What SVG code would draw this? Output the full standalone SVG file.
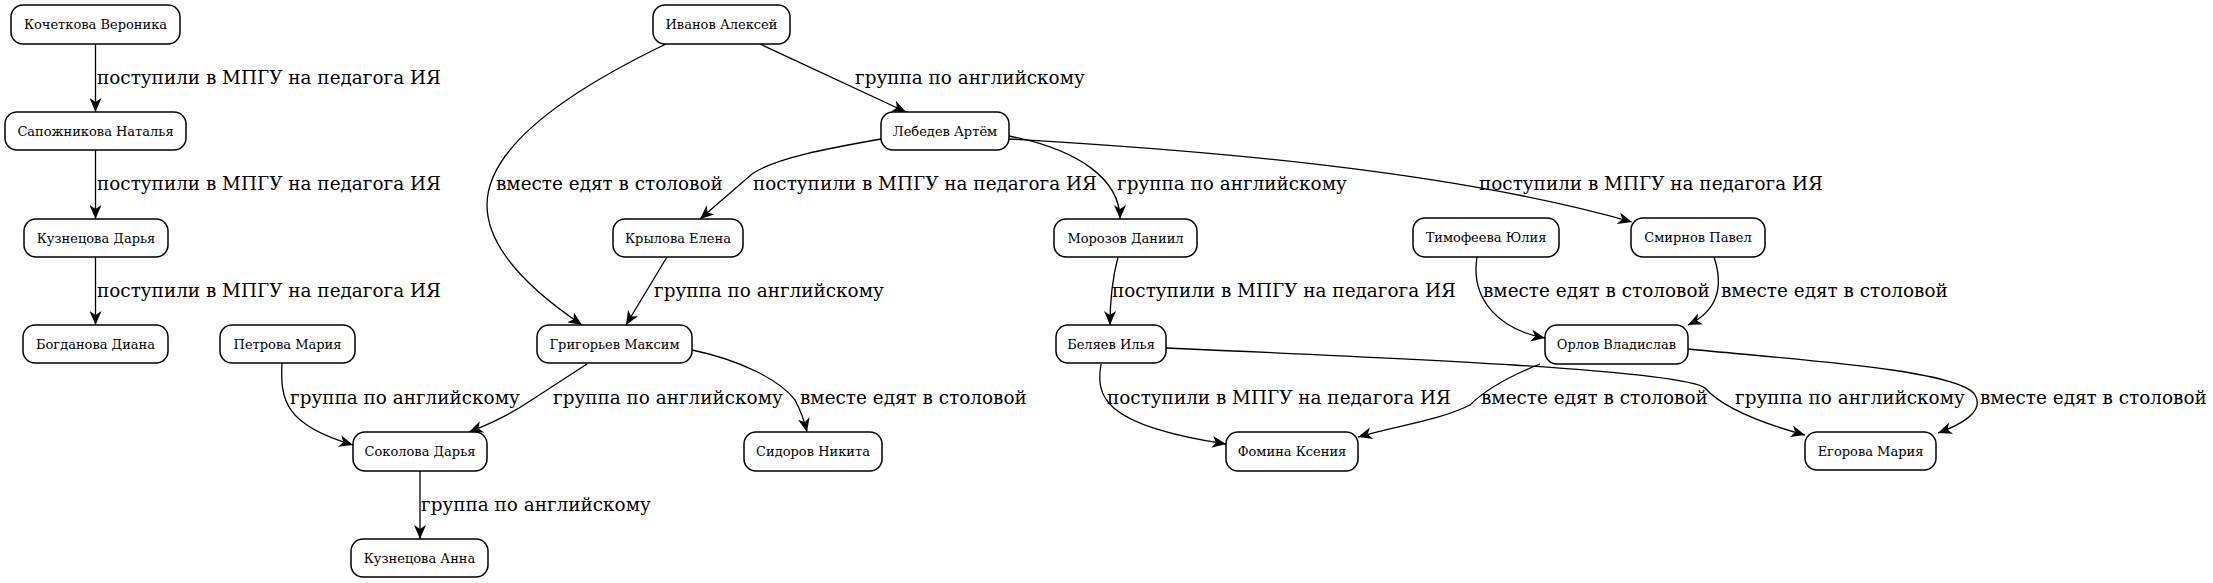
<svg xmlns="http://www.w3.org/2000/svg" width="2213" height="583" viewBox="0 0 2213 583">
<style>
.n rect{fill:#fff;stroke:#000;stroke-width:1.5}
.n text{font-family:"DejaVu Serif",serif;font-size:13px;text-anchor:middle;fill:#000}
.e path{fill:none;stroke:#000;stroke-width:1.3}
.l{font-family:"DejaVu Serif",serif;font-size:18.4px;fill:#000}
</style>
<defs>
<marker id="a" markerUnits="userSpaceOnUse" markerWidth="16" markerHeight="12" refX="14" refY="6" orient="auto">
<path d="M0,0 L14,6 L0,12 L4,6 z" fill="#000"/>
</marker>
</defs>
<rect width="2213" height="583" fill="#fff"/>
<g id="edges" class="e">
<path marker-end="url(#a)" d="M95.5,44 L95.5,112"/>
<path marker-end="url(#a)" d="M95.5,150 L95.5,219"/>
<path marker-end="url(#a)" d="M95.5,257 L95.5,325"/>
<path marker-end="url(#a)" d="M282,363 C280,400 285,425 353,445"/>
<path marker-end="url(#a)" d="M587,364 L530,401 Q505,418 469,432"/>
<path marker-end="url(#a)" d="M692,350 C740,360 780,380 795,400 Q803,415 807,432"/>
<path marker-end="url(#a)" d="M420,471 L420,539"/>
<path marker-end="url(#a)" d="M760,44 L906,112"/>
<path marker-end="url(#a)" d="M666,44 C560,95 487,150 487,205 C487,255 545,300 582,325"/>
<path marker-end="url(#a)" d="M881,139 C830,148 775,158 752,174 L700,219"/>
<path marker-end="url(#a)" d="M667,257 L626,325"/>
<path marker-end="url(#a)" d="M1009,136 C1080,150 1120,180 1120,219"/>
<path marker-end="url(#a)" d="M1009,139 C1200,150 1450,170 1632,222"/>
<path marker-end="url(#a)" d="M1118,257 C1112,280 1110,300 1110,325"/>
<path marker-end="url(#a)" d="M1477,257 C1470,300 1500,330 1545,338"/>
<path marker-end="url(#a)" d="M1714,257 C1725,290 1715,312 1688,325"/>
<path marker-end="url(#a)" d="M1101,364 C1096,395 1100,425 1226,444"/>
<path marker-end="url(#a)" d="M1540,364 C1500,380 1480,395 1470,405 C1440,420 1400,425 1358,437"/>
<path marker-end="url(#a)" d="M1166,348 C1400,358 1680,370 1705,388 C1720,405 1750,420 1805,435"/>
<path marker-end="url(#a)" d="M1688,349 C1800,360 1960,370 1975,395 C1985,412 1960,425 1938,433"/>
<text class="l" x="97" y="84">поступили в МПГУ на педагога ИЯ</text>
<text class="l" x="97" y="190">поступили в МПГУ на педагога ИЯ</text>
<text class="l" x="97" y="297">поступили в МПГУ на педагога ИЯ</text>
<text class="l" x="290" y="404">группа по английскому</text>
<text class="l" x="553" y="404">группа по английскому</text>
<text class="l" x="800" y="404">вместе едят в столовой</text>
<text class="l" x="421" y="511">группа по английскому</text>
<text class="l" x="855" y="84">группа по английскому</text>
<text class="l" x="496" y="190">вместе едят в столовой</text>
<text class="l" x="753" y="190">поступили в МПГУ на педагога ИЯ</text>
<text class="l" x="654" y="297">группа по английскому</text>
<text class="l" x="1117" y="190">группа по английскому</text>
<text class="l" x="1479" y="190">поступили в МПГУ на педагога ИЯ</text>
<text class="l" x="1112" y="297">поступили в МПГУ на педагога ИЯ</text>
<text class="l" x="1483" y="297">вместе едят в столовой</text>
<text class="l" x="1721" y="297">вместе едят в столовой</text>
<text class="l" x="1107" y="404">поступили в МПГУ на педагога ИЯ</text>
<text class="l" x="1481" y="404">вместе едят в столовой</text>
<text class="l" x="1735" y="404">группа по английскому</text>
<text class="l" x="1980" y="404">вместе едят в столовой</text>
</g>
<g id="n1" class="n"><rect x="11" y="5" width="169" height="39" rx="12"/><text x="95.5" y="29">Кочеткова Вероника</text></g>
<g id="n2" class="n"><rect x="5" y="112" width="181" height="38" rx="12"/><text x="95.5" y="135.5">Сапожникова Наталья</text></g>
<g id="n3" class="n"><rect x="24" y="219" width="144" height="38" rx="12"/><text x="96" y="242.5">Кузнецова Дарья</text></g>
<g id="n4" class="n"><rect x="23" y="325" width="145" height="38" rx="12"/><text x="95.5" y="348.5">Богданова Диана</text></g>
<g id="n5" class="n"><rect x="220" y="325" width="135" height="38" rx="12"/><text x="287.5" y="348.5">Петрова Мария</text></g>
<g id="n6" class="n"><rect x="353" y="432" width="134" height="39" rx="12"/><text x="420" y="456">Соколова Дарья</text></g>
<g id="n7" class="n"><rect x="351" y="539" width="137" height="38" rx="12"/><text x="419.5" y="562.5">Кузнецова Анна</text></g>
<g id="n8" class="n"><rect x="653" y="5" width="137" height="39" rx="12"/><text x="721.5" y="29">Иванов Алексей</text></g>
<g id="n9" class="n"><rect x="881" y="112" width="128" height="38" rx="12"/><text x="945" y="135.5">Лебедев Артём</text></g>
<g id="n10" class="n"><rect x="613" y="219" width="130" height="38" rx="12"/><text x="678" y="242.5">Крылова Елена</text></g>
<g id="n11" class="n"><rect x="537" y="325" width="155" height="38" rx="12"/><text x="614.5" y="348.5">Григорьев Максим</text></g>
<g id="n12" class="n"><rect x="744" y="432" width="138" height="39" rx="12"/><text x="813" y="456">Сидоров Никита</text></g>
<g id="n13" class="n"><rect x="1054" y="219" width="143" height="38" rx="12"/><text x="1125.5" y="242.5">Морозов Даниил</text></g>
<g id="n14" class="n"><rect x="1056" y="325" width="110" height="38" rx="12"/><text x="1111" y="348.5">Беляев Илья</text></g>
<g id="n15" class="n"><rect x="1226" y="432" width="132" height="39" rx="12"/><text x="1292" y="456">Фомина Ксения</text></g>
<g id="n16" class="n"><rect x="1413" y="218" width="146" height="39" rx="12"/><text x="1486" y="242">Тимофеева Юлия</text></g>
<g id="n17" class="n"><rect x="1631" y="218" width="134" height="39" rx="12"/><text x="1698" y="242">Смирнов Павел</text></g>
<g id="n18" class="n"><rect x="1545" y="325" width="143" height="39" rx="12"/><text x="1616.5" y="349">Орлов Владислав</text></g>
<g id="n19" class="n"><rect x="1805" y="432" width="131" height="38" rx="12"/><text x="1870.5" y="455.5">Егорова Мария</text></g>
</svg>
